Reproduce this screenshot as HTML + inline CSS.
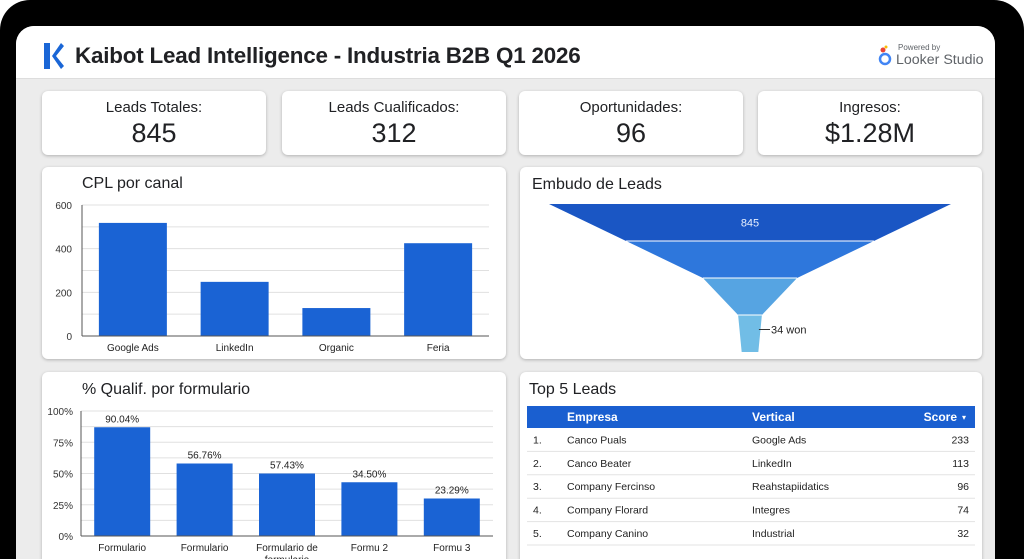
<!DOCTYPE html>
<html><head><meta charset="utf-8">
<style>
*{box-sizing:border-box;margin:0;padding:0}
html,body{width:1024px;height:559px;overflow:hidden}
body{background:#fff;position:relative;font-family:"Liberation Sans",sans-serif;color:#202124}
#frame{position:absolute;left:0;top:0;width:1024px;height:559px;background:#000;border-radius:30px 30px 0 0}
#screen{position:absolute;left:16px;top:26px;width:979px;height:533px;background:#ececec;border-radius:18px 18px 0 0;overflow:hidden}
#header{position:absolute;left:0;top:0;width:979px;height:53px;background:#fff;border-bottom:1px solid #ddd}
.card{position:absolute;background:#fff;border-radius:6px;box-shadow:0 1px 3px rgba(0,0,0,.25)}
.kpi-label{position:absolute;left:0;right:0;top:8px;text-align:center;font-size:15px}
.kpi-value{position:absolute;left:0;right:0;top:27px;text-align:center;font-size:27px}
.ctitle{position:absolute;font-size:16px}
#charts{position:absolute;left:0;top:0;width:1024px;height:559px;overflow:hidden}
</style></head><body>
<div id="frame"></div>
<div id="screen">
 <div id="header">
  <svg style="position:absolute;left:28px;top:17px" width="20" height="26">
   <rect x="0" y="0" width="6" height="26" fill="#1a66d6"/><polygon points="8,13 17,0 20,3 12,13 20,23 17,26" fill="#1a66d6"/>
  </svg>
  <div style="position:absolute;left:59px;top:17px;font-size:22.4px;font-weight:bold;letter-spacing:-0.2px">Kaibot Lead Intelligence - Industria B2B Q1 2026</div>
  <svg style="position:absolute;left:861px;top:18px" width="16" height="24">
   <circle cx="8" cy="15" r="5" fill="none" stroke="#4285f4" stroke-width="2.5"/><circle cx="6" cy="6" r="2.5" fill="#ea4335"/><circle cx="9" cy="3" r="1.5" fill="#fbbc04"/>
  </svg>
  <div style="position:absolute;left:882px;top:17px;font-size:8px;color:#5f6368">Powered by</div>
  <div style="position:absolute;left:880px;top:26px;font-size:14.2px;color:#5f6368">Looker Studio</div>
 </div>
</div>
<div id="charts">
<script>
const root=document.getElementById('charts');
const kpiLabels=["Leads Totales:","Leads Cualificados:","Oportunidades:","Ingresos:"];
const kpiValues=["845","312","96","$1.28M"];
const kpiX=[42,282,519,758];
kpiLabels.forEach((l,i)=>{
 const c=document.createElement('div');c.className='card';
 
 
 c.style.cssText=`left:${kpiX[i]}px;top:91px;width:224px;height:64px`;
 const a=document.createElement('div');a.className='kpi-label';a.textContent=l;
 
 
 const b=document.createElement('div');b.className='kpi-value';b.textContent=kpiValues[i];
 
 
 c.appendChild(a);c.appendChild(b);root.appendChild(c);
});
</script>

<div class="card" style="left:42px;top:167px;width:464px;height:192px"></div>
<div class="ctitle" style="left:82px;top:175px">CPL por canal</div>
<svg id="cpl" width="1024" height="559" style="position:absolute;left:0;top:0"></svg>

<div class="card" style="left:520px;top:167px;width:462px;height:192px"></div>
<div class="ctitle" style="left:532px;top:176px">Embudo de Leads</div>
<svg id="funnel" width="1024" height="559" style="position:absolute;left:0;top:0"></svg>

<div class="card" style="left:42px;top:372px;width:464px;height:200px"></div>
<div class="ctitle" style="left:82px;top:381px">% Qualif. por formulario</div>
<svg id="qual" width="1024" height="559" style="position:absolute;left:0;top:0"></svg>

<div class="card" style="left:520px;top:372px;width:462px;height:200px"></div>
<div class="ctitle" style="left:529px;top:381px">Top 5 Leads</div>
<svg id="tbl" width="1024" height="559" style="position:absolute;left:0;top:0"></svg>
</div>

<script>
const NS="http://www.w3.org/2000/svg";
function s(p,tag,attrs,name,txt){const e=document.createElementNS(NS,tag);for(const k in attrs)e.setAttribute(k,attrs[k]);


if(txt!==undefined)e.textContent=txt;p.appendChild(e);return e;}

const cplCategories=["Google Ads","LinkedIn","Organic","Feria"];
const cplValues=[518,248,128,425];
const cplTicks=[0,200,400,600];
(function(){
 const g=document.getElementById('cpl');
 const x0=82,x1=489,y0=336,y1=205,max=600;
 const y=v=>y0-(v/max)*(y0-y1);
 for(let v=0;v<=max;v+=100)s(g,'line',{x1:x0,x2:x1,y1:y(v),y2:y(v),stroke:'#e0e0e0','stroke-width':1},'gridline');
 cplTicks.forEach(t=>s(g,'text',{x:72,y:y(t)+4,'text-anchor':'end','font-size':10,fill:'#333'},'y-tick-label',String(t)));
 s(g,'line',{x1:x0,x2:x0,y1:y1,y2:y0,stroke:'#555'},'y-axis');
 const bw=(x1-x0)/cplCategories.length;
 cplCategories.forEach((c,i)=>{
  const cx=x0+bw*(i+0.5);
  s(g,'rect',{x:cx-34,y:y(cplValues[i]),width:68,height:y0-y(cplValues[i]),fill:'#1a63d4'},'bar-'+c.toLowerCase().replace(/ /g,'-'));
  s(g,'text',{x:cx,y:351,'text-anchor':'middle','font-size':10,fill:'#222'},'x-tick-label',c);
 });
 s(g,'line',{x1:x0,x2:x1,y1:y0,y2:y0,stroke:'#555'},'x-axis');
})();

const funnelStages=["Leads","Cualificados","Oportunidades","Won"];
const funnelValues=[845,521,198,50];
const funnelColors=["#1a56c4","#2e77dc","#56a4e2","#71bde6"];
(function(){
 const g=document.getElementById('funnel');
 const cx=750,top=204,h=37,full=402,max=funnelValues[0];
 const w=v=>v/max*full;
 funnelValues.forEach((v,i)=>{
  const wt=w(v),wb=i<funnelValues.length-1?w(funnelValues[i+1]):w(v)*0.7;
  const yt=top+i*h,yb=yt+h;
  s(g,'polygon',{points:`${cx-wt/2},${yt} ${cx+wt/2},${yt} ${cx+wb/2},${yb} ${cx-wb/2},${yb}`,fill:funnelColors[i]},'funnel-'+funnelStages[i].toLowerCase());
  if(i>0)s(g,'line',{x1:cx-wt/2,x2:cx+wt/2,y1:yt,y2:yt,stroke:'#fff','stroke-width':1},'funnel-divider');
 });
 s(g,'text',{x:cx,y:top+h/2+4,'text-anchor':'middle','font-size':11,fill:'#e8f0ff'},'funnel-top-label',String(funnelValues[0]));
 const yl=top+3*h+h/2-4;
 s(g,'line',{x1:cx+w(funnelValues[3])/2-3,x2:cx+20,y1:yl,y2:yl,stroke:'#333'},'funnel-label-leader');
 s(g,'text',{x:cx+21,y:yl+4,'font-size':11,fill:'#222'},'funnel-won-label','34 won');
})();

const qualCategories=["Formulario","Formulario","Formulario de","Formu 2","Formu 3"];
const qualValues=[87,58,50,43,30];
const qualLabels=["90.04%","56.76%","57.43%","34.50%","23.29%"];
const qualTicks=[0,25,50,75,100];
(function(){
 const g=document.getElementById('qual');
 const x0=81,x1=493,y0=536,y1=411;
 const y=v=>y0-(v/100)*(y0-y1);
 for(let v=0;v<=100;v+=12.5)s(g,'line',{x1:x0,x2:x1,y1:y(v),y2:y(v),stroke:'#e0e0e0'},'gridline');
 qualTicks.forEach(t=>s(g,'text',{x:73,y:y(t)+4,'text-anchor':'end','font-size':10,fill:'#333'},'y-tick-label',t+'%'));
 s(g,'line',{x1:x0,x2:x0,y1:y1,y2:y0,stroke:'#555'},'y-axis');
 const bw=(x1-x0)/qualCategories.length;
 qualCategories.forEach((c,i)=>{
  const cx=x0+bw*(i+0.5);
  s(g,'rect',{x:cx-28,y:y(qualValues[i]),width:56,height:y0-y(qualValues[i]),fill:'#1a63d4'},'bar-form-'+(i+1));
  s(g,'text',{x:cx,y:y(qualValues[i])-5,'text-anchor':'middle','font-size':10,fill:'#222'},'bar-value-label',qualLabels[i]);
  s(g,'text',{x:cx,y:551,'text-anchor':'middle','font-size':10,fill:'#222'},'x-tick-label',c);
 });
 s(g,'text',{x:x0+bw*2.5,y:563,'text-anchor':'middle','font-size':10,fill:'#222'},'x-tick-label','formulario');
 s(g,'line',{x1:x0,x2:x1,y1:y0,y2:y0,stroke:'#555'},'x-axis');
})();

const leadCompanies=["Canco Puals","Canco Beater","Company Fercinso","Company Florard","Company Canino"];
const leadVerticals=["Google Ads","LinkedIn","Reahstapiidatics","Integres","Industrial"];
const leadScores=[233,113,96,74,32];
(function(){
 const g=document.getElementById('tbl');
 s(g,'rect',{x:527,y:406,width:448,height:22,fill:'#1a5fd0'},'table-header');
 s(g,'text',{x:567,y:421,'font-size':12,'font-weight':'bold',fill:'#fff'},'header-empresa','Empresa');
 s(g,'text',{x:752,y:421,'font-size':12,'font-weight':'bold',fill:'#fff'},'header-vertical','Vertical');
 s(g,'text',{x:957,y:421,'font-size':12,'font-weight':'bold',fill:'#fff','text-anchor':'end'},'header-score','Score');
 s(g,'text',{x:962,y:420,'font-size':8,fill:'#fff'},'sort-icon','▾');
 leadCompanies.forEach((c,i)=>{
  const yb=428+(i+1)*23.4,ty=yb-8;
  s(g,'text',{x:533,y:ty,'font-size':10.5,fill:'#222'},'row-rank',(i+1)+'.');
  s(g,'text',{x:567,y:ty,'font-size':10.5,fill:'#222'},'row-company',c);
  s(g,'text',{x:752,y:ty,'font-size':10.5,fill:'#222'},'row-vertical',leadVerticals[i]);
  s(g,'text',{x:969,y:ty,'font-size':10.5,fill:'#222','text-anchor':'end'},'row-score',String(leadScores[i]));
  s(g,'line',{x1:527,x2:975,y1:yb,y2:yb,stroke:'#e3e3e3'},'row-divider');
 });
})();
</script>
</body></html>
